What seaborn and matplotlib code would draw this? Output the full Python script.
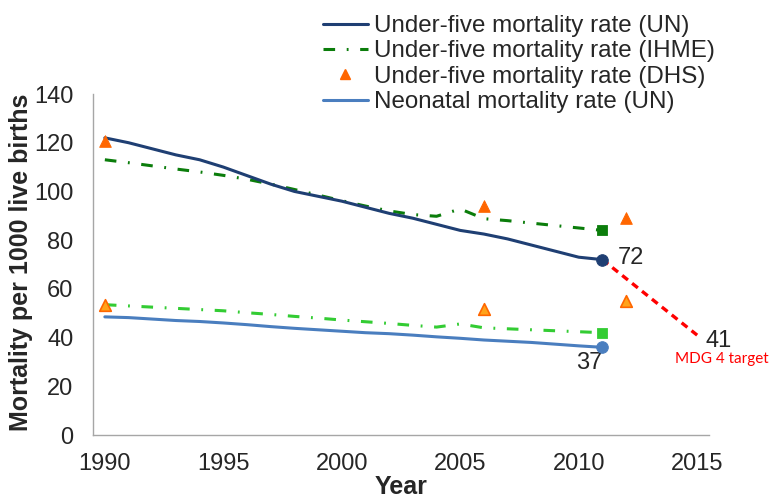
import numpy as np
import pandas as pd
import matplotlib
matplotlib.use("Agg")
import matplotlib.pyplot as plt
import seaborn as sns
from matplotlib.lines import Line2D

# ── Data ───────────────────────────────────────────────────────────────────────

years = list(range(1990, 2012))

u5_un = [122, 120, 117.5, 115, 113, 110, 106.5, 103, 100, 98, 96,
         93.5, 91, 89, 86.5, 84, 82.5, 80.5, 78, 75.5, 73, 72]
u5_ihme = [113, 111.8, 110.5, 109.2, 108, 106.6, 105, 103, 100.8, 98.5, 96.2,
           94, 92, 90.5, 89.8, 92.8, 88.8, 88, 87, 86, 85, 84]
nn_ihme = [53.5, 53, 52.5, 52, 51.5, 51, 50.2, 49.5, 48.7, 48, 47.2,
           46.5, 45.8, 45, 44.3, 45.6, 44, 43.6, 43.2, 42.8, 42.4, 42]
nn_un = [48.5, 48.2, 47.6, 47, 46.6, 46, 45.3, 44.5, 43.8, 43.2, 42.6,
         42, 41.6, 41, 40.3, 39.7, 39, 38.5, 38, 37.3, 36.6, 36]

dhs_years = [1990, 2006, 2012]
dhs_u5 = [120.5, 94, 89]
dhs_nn = [53.5, 51.7, 55.2]

mdg_years = [2011, 2015]
mdg_vals = [72, 41]

year_labels = ["1990", "1995", "2000", "2005", "2010", "2015"]

# ── Style ──────────────────────────────────────────────────────────────────────

sns.set_style("white")
plt.rcParams["font.family"] = ["Liberation Sans", "DejaVu Sans"]

C_U5_UN = "#1f3f73"
C_U5_IHME = "#0b7d0b"
C_NN_IHME = "#33cc33"
C_NN_UN = "#4a7ebf"
C_DHS = "#ff6600"
C_MDG = "#ff0000"
GREY = "#a6a6a6"
DASHDOT = (3.8, 3.8, 0.6, 3.8)

fig = plt.figure(figsize=(7.71, 4.99), dpi=100)
ax = fig.add_axes([93 / 771, 1 - 435 / 499, 616 / 771, 341 / 499])

df = pd.DataFrame({"year": years, "u5_un": u5_un, "u5_ihme": u5_ihme,
                   "nn_ihme": nn_ihme, "nn_un": nn_un})

# ── Lines ──────────────────────────────────────────────────────────────────────

sns.lineplot(data=df, x="year", y="u5_ihme", color=C_U5_IHME, lw=2.2,
             ax=ax).lines[-1].set_dashes(DASHDOT)
sns.lineplot(data=df, x="year", y="nn_ihme", color=C_NN_IHME, lw=2.2,
             ax=ax).lines[-1].set_dashes(DASHDOT)
sns.lineplot(data=df, x="year", y="u5_un", color=C_U5_UN, lw=2.2, ax=ax)
sns.lineplot(data=df, x="year", y="nn_un", color=C_NN_UN, lw=2.2, ax=ax)
sns.lineplot(x=mdg_years, y=mdg_vals, color=C_MDG, lw=2.4, ax=ax).lines[-1].set_dashes((2.2, 1.6))

# end markers
last = df.iloc[[-1]]
sns.scatterplot(data=last, x="year", y="u5_ihme", marker="s", s=55, color=C_U5_IHME,
                edgecolor=C_U5_IHME, ax=ax, zorder=5)
sns.scatterplot(data=last, x="year", y="nn_ihme", marker="s", s=55, color=C_NN_IHME,
                edgecolor=C_NN_IHME, ax=ax, zorder=5)
sns.scatterplot(data=last, x="year", y="u5_un", marker="o", s=70, color=C_U5_UN,
                edgecolor=C_U5_UN, ax=ax, zorder=5)
sns.scatterplot(data=last, x="year", y="nn_un", marker="o", s=70, color=C_NN_UN,
                edgecolor=C_NN_UN, ax=ax, zorder=5)

# DHS survey points
sns.scatterplot(x=dhs_years, y=dhs_u5, marker="^", s=70, color=C_DHS,
                edgecolor=C_DHS, ax=ax, zorder=6)
sns.scatterplot(x=dhs_years, y=dhs_nn, marker="^", s=70, color="#ffa31a",
                edgecolor=C_DHS, linewidth=1.2, ax=ax, zorder=6)

# ── Annotations ────────────────────────────────────────────────────────────────

ax.text(2011.65, 72.5, "72", fontsize=17, va="center", ha="left")
ax.text(2015.35, 38.6, "41", fontsize=17, va="center", ha="left", clip_on=False)
ax.text(2010.45, 29.4, "37", fontsize=17, va="center", ha="center")
ax.text(2014.05, 31.2, "MDG 4 target", fontsize=11, color=C_MDG, va="center",
        ha="left", family=["Lato", "DejaVu Sans"], clip_on=False)

# ── Axes ───────────────────────────────────────────────────────────────────────

ax.set_xlim(1989.5, 2015.5)
ax.set_ylim(0, 140)
ax.set_yticks(range(0, 141, 20))
ax.set_xticks(np.arange(1989.5, 2016, 1), minor=False)
ax.set_xticklabels([])
ax.set_xticks([int(y) for y in year_labels], minor=True)
ax.set_xticklabels(year_labels, minor=True)
ax.tick_params(axis="x", which="major", length=6, width=1, color=GREY, direction="out")
ax.tick_params(axis="x", which="minor", length=0, labelsize=17, pad=13)
ax.tick_params(axis="y", length=6, width=1, color=GREY, direction="inout", labelsize=17, pad=11)
for side in ["top", "right"]:
    ax.spines[side].set_visible(False)
for side in ["left", "bottom"]:
    ax.spines[side].set_color(GREY)
    ax.spines[side].set_linewidth(1)

ax.set_xlabel("Year", fontsize=18, fontweight="bold")
ax.xaxis.set_label_coords(0.5, -0.118)
ax.set_ylabel("Mortality per 1000 live births", fontsize=18, fontweight="bold")
ax.yaxis.set_label_coords(-0.097, 0.507)

# ── Legend ─────────────────────────────────────────────────────────────────────

handles = [
    Line2D([], [], color=C_U5_UN, lw=2.2),
    Line2D([], [], color=C_U5_IHME, lw=2.2, dashes=DASHDOT),
    Line2D([], [], color=C_DHS, marker="^", ls="none", markersize=7),
    Line2D([], [], color=C_NN_UN, lw=2.2),
]
labels = ["Under-five mortality rate (UN)", "Under-five mortality rate (IHME)",
          "Under-five mortality rate (DHS)", "Neonatal mortality rate (UN)"]
fig.legend(handles, labels, loc="upper left", bbox_to_anchor=(323 / 771, 1 - 15 / 499),
           frameon=False, fontsize=17.4, handlelength=1.85, handletextpad=0.25,
           labelspacing=0.14, borderpad=0, borderaxespad=0)

fig.savefig("out.png", dpi=100)
